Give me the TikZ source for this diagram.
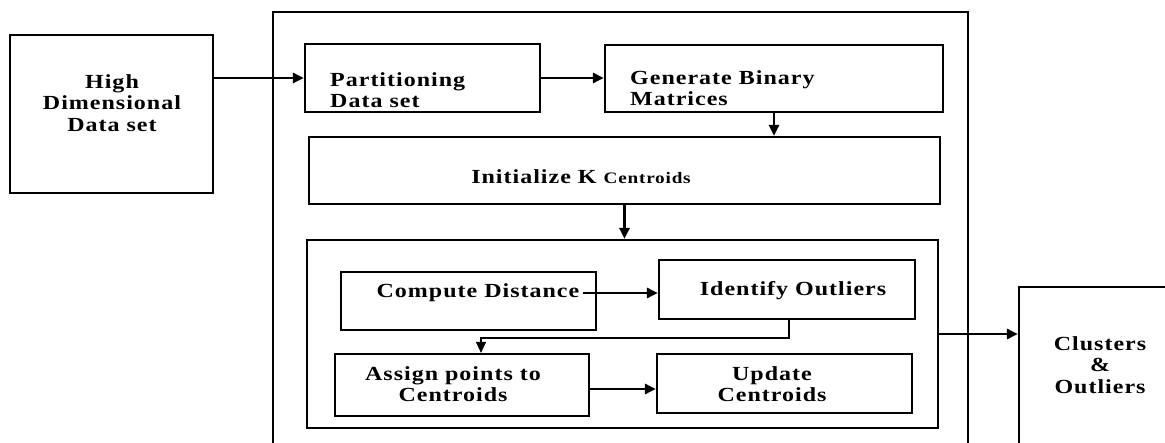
\documentclass[tikz,border=0pt]{standalone}
\usepackage{fontspec}
\setmainfont{Liberation Serif}[FakeStretch=1.2,LetterSpace=5]
\usetikzlibrary{arrows.meta}
\begin{document}
\begin{tikzpicture}[x=1pt,y=-1pt,
  box/.style={draw, line width=2.2pt, inner sep=0pt},
  lbl/.style={font=\bfseries\fontsize{20}{21.5}\selectfont, inner sep=0pt, align=center},
  lbll/.style={lbl, align=left},
  arr/.style={line width=2.8pt, -{Triangle[length=11pt,width=10pt]}},
  thinarr/.style={line width=1.2pt, -{Triangle[length=11pt,width=10pt]}}]
\useasboundingbox (0,0) rectangle (1165,443);
\clip (0,0) rectangle (1165,443);
% boxes
\node[box, minimum width=203pt, minimum height=158pt] (hd) at (111.5,114) {};
\node[box, minimum width=695pt, minimum height=448pt] (outer) at (620.5,236) {};
\node[box, minimum width=235pt, minimum height=68pt] (part) at (422.5,78) {};
\node[box, minimum width=338pt, minimum height=67pt] (gen) at (774,78.5) {};
\node[box, minimum width=631pt, minimum height=67pt] (init) at (624.5,170.5) {};
\node[box, minimum width=631pt, minimum height=188pt] (inner) at (622.5,334) {};
\node[box, minimum width=255pt, minimum height=58pt] (cd) at (468.5,301) {};
\node[box, minimum width=256pt, minimum height=59pt] (io) at (787,289.5) {};
\node[box, minimum width=254pt, minimum height=62pt] (ap) at (462,385) {};
\node[box, minimum width=255pt, minimum height=59pt] (uc) at (784.5,383.5) {};
\node[box, minimum width=181pt, minimum height=183pt] (cl) at (1109.5,378.5) {};
% texts
\node[lbl] (hdt) at (112,103) {High\\Dimensional\\Data set};
\node[lbll, anchor=west] (partt) at (330,90) {Partitioning\\Data set};
\node[lbll, anchor=west] (gent) at (630,88) {Generate Binary\\Matrices};
\node[lbl] (initt) at (581,177) {Initialize K {\fontsize{16}{17}\selectfont Centroids}};
\node[lbl] (cdt) at (478,293) {Compute Distance};
\node[lbl] (iot) at (793,291) {Identify Outliers};
\node[lbl] (apt) at (453,384) {Assign points to\\Centroids};
\node[lbl] (uct) at (772,384) {Update\\Centroids};
\node[lbl] (clt) at (1100,365) {Clusters\\\&\\Outliers};
% connectors
\draw[arr] (hd.east |- part.west) -- (part.west);
\draw[arr] (part.east) -- (gen.west |- part.east);
\draw[arr] (gen.south) -- (init.north -| gen.south);
\draw[arr] (init.south) -- (inner.north -| init.south);
\draw[arr] ([xshift=3pt]cdt.east) -- (io.west |- cdt.east);
\coordinate (apin) at ([xshift=19pt]ap.north);
\draw[thinarr] ([xshift=2pt]io.south) -- ++(0,18) -| (apin);
\coordinate (apout) at ([yshift=-4pt]ap.east);
\draw[arr] (apout) -- (uc.west |- apout);
\draw[arr] (inner.east) -- (cl.west |- inner.east);
\end{tikzpicture}
\end{document}
